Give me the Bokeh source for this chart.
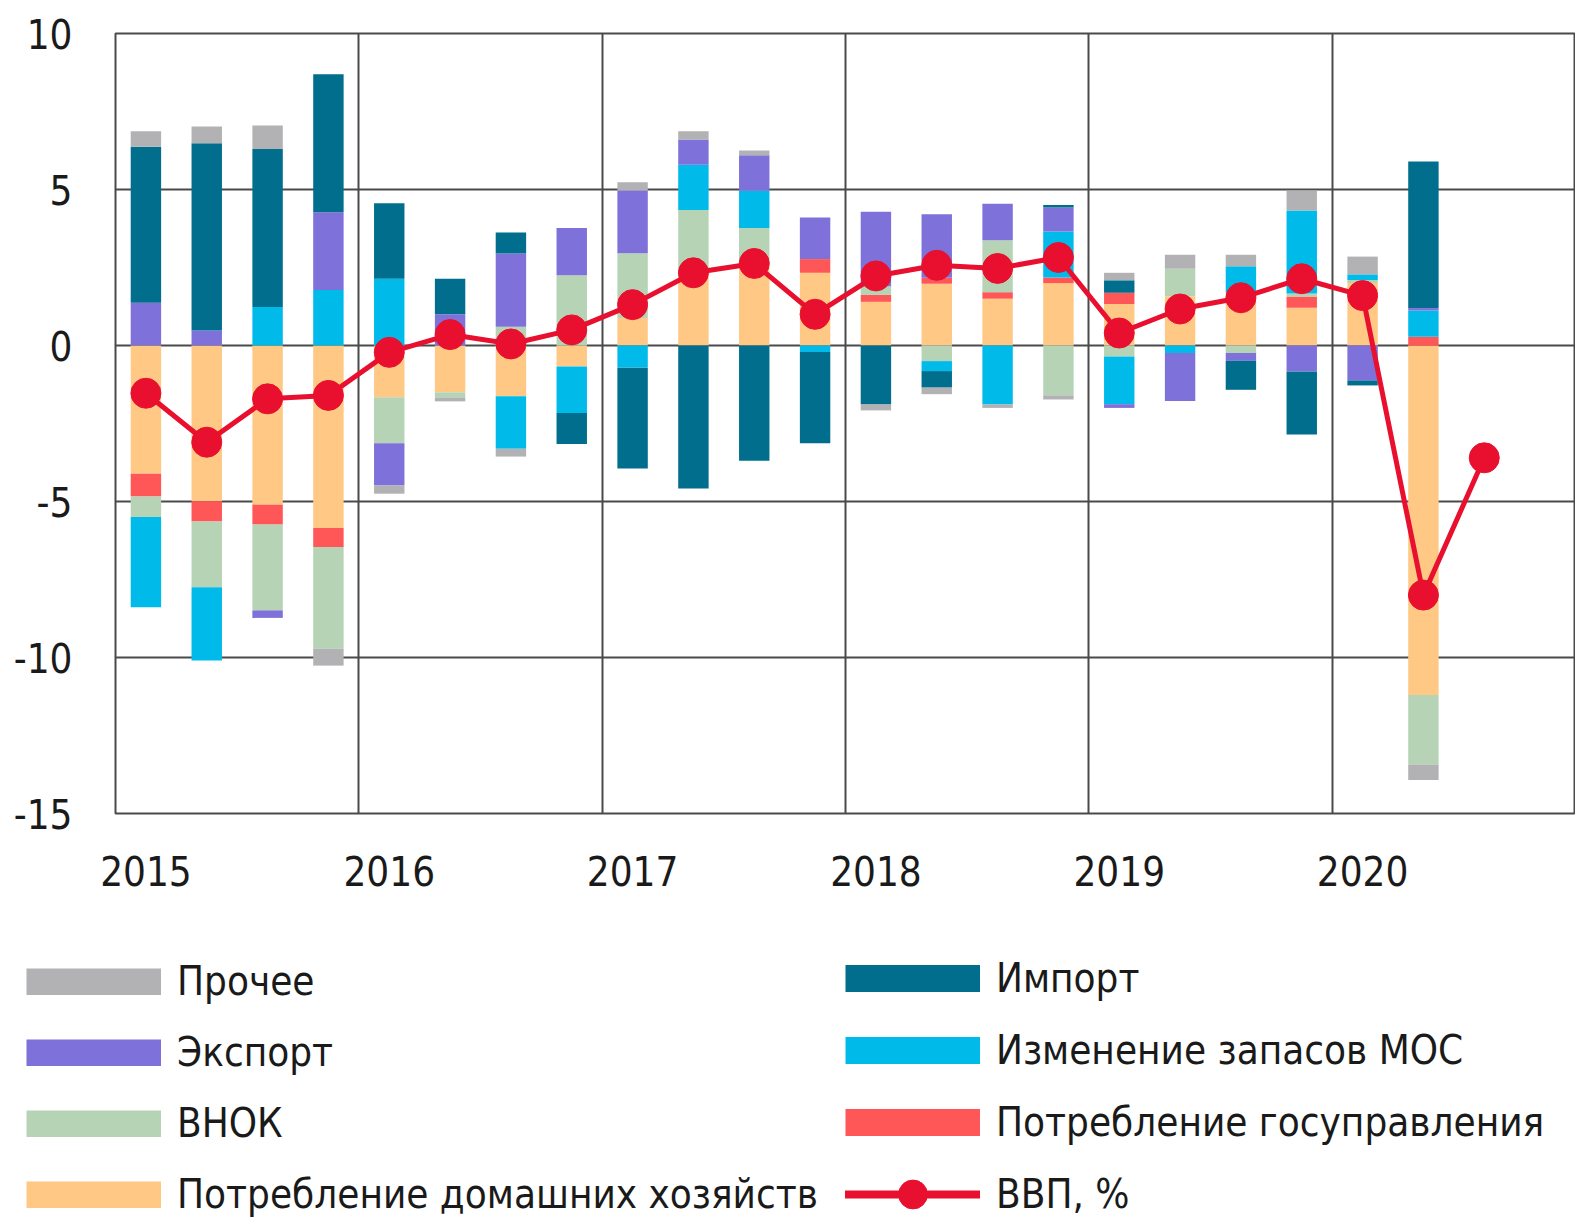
import numpy as np
from bokeh.plotting import figure
from bokeh.models import ColumnDataSource, FixedTicker, Legend, LegendItem, Range1d
from bokeh.embed import file_html
from bokeh.resources import INLINE

# ---- data (contributions to GDP growth, p.p.) ----
quarters = ["2015Q1", "2015Q2", "2015Q3", "2015Q4",
            "2016Q1", "2016Q2", "2016Q3", "2016Q4",
            "2017Q1", "2017Q2", "2017Q3", "2017Q4",
            "2018Q1", "2018Q2", "2018Q3", "2018Q4",
            "2019Q1", "2019Q2", "2019Q3", "2019Q4",
            "2020Q1", "2020Q2"]
gdp_quarters = quarters + ["2020Q3"]

household = [-4.11, -4.99, -5.10, -5.85, -1.66, -1.50, -1.63, -0.67,
             0.88, 2.30, 2.70, 2.33, 1.40, 1.98, 1.50, 2.00,
             1.33, 1.58, 1.70, 1.21, 2.00, -11.20]
government = [-0.73, -0.65, -0.64, -0.61, 0.0, 0.0, 0.0, 0.0,
              0.0, 0.0, 0.0, 0.44, 0.22, 0.19, 0.21, 0.18,
              0.36, 0.0, 0.0, 0.36, 0.0, 0.28]
gfcf = [-0.66, -2.11, -2.75, -3.26, -1.47, -0.18, 0.60, 2.25,
        2.08, 2.04, 1.07, 0.0, 0.28, -0.50, 1.66, -1.60,
        -0.35, 0.88, -0.24, 0.10, 0.10, -2.23]
stocks = [-2.89, -2.35, 1.23, 1.78, 2.14, 0.0, -1.68, -1.49,
          -0.71, 1.45, 1.19, -0.21, 0.0, -0.32, -1.89, 1.47,
          -1.53, -0.24, 0.84, 2.66, 0.18, 0.84]
exports = [1.37, 0.48, -0.24, 2.49, -1.36, 1.00, 2.35, 1.52,
           2.01, 0.81, 1.14, 1.33, 2.39, 2.04, 1.17, 0.77,
           -0.12, -1.54, -0.25, -0.83, -1.12, 0.08]
imports = [5.00, 6.00, 5.07, 4.42, 2.42, 1.14, 0.67, -1.00,
           -3.23, -4.58, -3.69, -2.92, -1.89, -0.53, 0.0, 0.08,
           0.40, 0.0, -0.93, -2.02, -0.16, 4.70]
other = [0.50, 0.54, 0.75, -0.54, -0.26, -0.11, -0.25, 0.0,
         0.26, 0.27, 0.15, 0.0, -0.19, -0.21, -0.11, -0.13,
         0.24, 0.45, 0.37, 0.62, 0.57, -0.50]
gdp = [-1.53, -3.10, -1.71, -1.60, -0.22, 0.35, 0.05, 0.50,
       1.31, 2.33, 2.63, 1.00, 2.23, 2.57, 2.47, 2.82,
       0.40, 1.17, 1.53, 2.14, 1.60, -8.00, -3.60]

year_ticks = [0.5, 4.5, 8.5, 12.5, 16.5, 20.5]
year_labels = ["2015", "2016", "2017", "2018", "2019", "2020"]
y_ticks = [-15, -10, -5, 0, 5, 10]
y_labels = ["-15", "-10", "-5", "0", "5", "10"]

series = [
    ("Потребление домашних хозяйств", household, "#FFC884"),
    ("Потребление госуправления", government, "#FF5757"),
    ("ВНОК", gfcf, "#B6D3B6"),
    ("Изменение запасов МОС", stocks, "#00BBEA"),
    ("Экспорт", exports, "#7E71DA"),
    ("Импорт", imports, "#006E8C"),
    ("Прочее", other, "#B2B2B4"),
]
colors = {name: color for name, _, color in series}
GDP_COLOR = "#E8102E"
legend_left = ["Прочее", "Экспорт", "ВНОК", "Потребление домашних хозяйств"]
legend_right = ["Импорт", "Изменение запасов МОС", "Потребление госуправления"]
gdp_label = "ВВП, %"

FONT = "DejaVu Sans Condensed"
GRID = "#4a4a4a"

p = figure(frame_width=1460, frame_height=780, x_range=(0, 24), y_range=(-15, 10),
           min_border_left=115, min_border_right=0, min_border_top=33,
           min_border_bottom=100, output_backend="svg", toolbar_location=None)
p.background_fill_color = "white"
p.border_fill_color = "white"
p.outline_line_color = GRID
p.outline_line_width = 2

x = np.arange(len(quarters)) + 0.5
pos_base = np.zeros(len(quarters))
neg_base = np.zeros(len(quarters))
for name, vals, color in series:
    v = np.array(vals, dtype=float)
    pv = np.where(v > 0, v, 0.0)
    nv = np.where(v < 0, v, 0.0)
    top = np.where(v > 0, pos_base + pv, neg_base)
    bottom = np.where(v > 0, pos_base, neg_base + nv)
    pos_base = pos_base + pv
    neg_base = neg_base + nv
    src = ColumnDataSource(dict(x=x, top=top, bottom=bottom))
    p.vbar(x="x", top="top", bottom="bottom", width=0.5, source=src,
           fill_color=color, line_color=None)

gx = np.arange(len(gdp_quarters)) + 0.5
gsrc = ColumnDataSource(dict(x=gx, y=gdp))
p.line("x", "y", source=gsrc, line_color=GDP_COLOR, line_width=5)
p.scatter("x", "y", source=gsrc, size=30, fill_color=GDP_COLOR, line_color=GDP_COLOR)

# axes
p.xaxis.ticker = FixedTicker(ticks=year_ticks)
p.xaxis.major_label_overrides = {t: l for t, l in zip(year_ticks, year_labels)}
p.yaxis.ticker = FixedTicker(ticks=y_ticks)
p.yaxis.major_label_overrides = {t: l for t, l in zip(y_ticks, y_labels)}
for ax in (p.xaxis, p.yaxis):
    ax.axis_line_color = None
    ax.major_tick_line_color = None
    ax.minor_tick_line_color = None
    ax.major_label_text_font = FONT
    ax.major_label_text_font_size = "40px"
    ax.major_label_text_color = "#1a1a1a"
p.xaxis.major_label_standoff = 36
p.yaxis.major_label_standoff = 37

p.xgrid.ticker = FixedTicker(ticks=[4, 8, 12, 16, 20])
p.ygrid.ticker = FixedTicker(ticks=y_ticks)
for g in (p.xgrid, p.ygrid):
    g.grid_line_color = GRID
    g.grid_line_width = 2

# ---- legend panel (separate root below the chart) ----
lf = figure(width=1575, height=310, x_range=Range1d(0, 1), y_range=Range1d(0, 1),
            min_border=0, min_border_left=0, min_border_right=0,
            min_border_top=0, min_border_bottom=0,
            output_backend="svg", toolbar_location=None)
lf.axis.visible = False
lf.grid.visible = False
lf.outline_line_color = None
lf.background_fill_color = "white"
lf.border_fill_color = "white"

# swatch renderers sit outside the visible range; only their legend glyphs show
def swatch(name):
    r = lf.line("x", "y", source=ColumnDataSource(dict(x=[5, 6], y=[5, 5])),
                line_color=colors[name], line_width=27, line_cap="butt")
    return LegendItem(label=name, renderers=[r])

left_items = [swatch(n) for n in legend_left]
right_items = [swatch(n) for n in legend_right]
esrc = ColumnDataSource(dict(x=[5, 6], y=[5, 5]))
lr = lf.line("x", "y", source=esrc, line_color=GDP_COLOR, line_width=8, line_cap="round")
sr = lf.scatter("x", "y", source=esrc, size=28, fill_color=GDP_COLOR, line_color=GDP_COLOR)
right_items.append(LegendItem(label=gdp_label, renderers=[lr, sr]))

common = dict(glyph_width=135, label_standoff=16, padding=0, margin=0,
              label_text_font=FONT, label_text_font_size="40px",
              label_text_color="#1a1a1a",
              border_line_color=None, background_fill_alpha=0)
leg1 = Legend(items=left_items, location=(26, 6), glyph_height=27, spacing=25, **common)
leg2 = Legend(items=right_items, location=(845, -7), glyph_height=72, spacing=-1, **common)
lf.add_layout(leg1, "center")
lf.add_layout(leg2, "center")

open("out.html", "w").write(file_html([p, lf], INLINE))
